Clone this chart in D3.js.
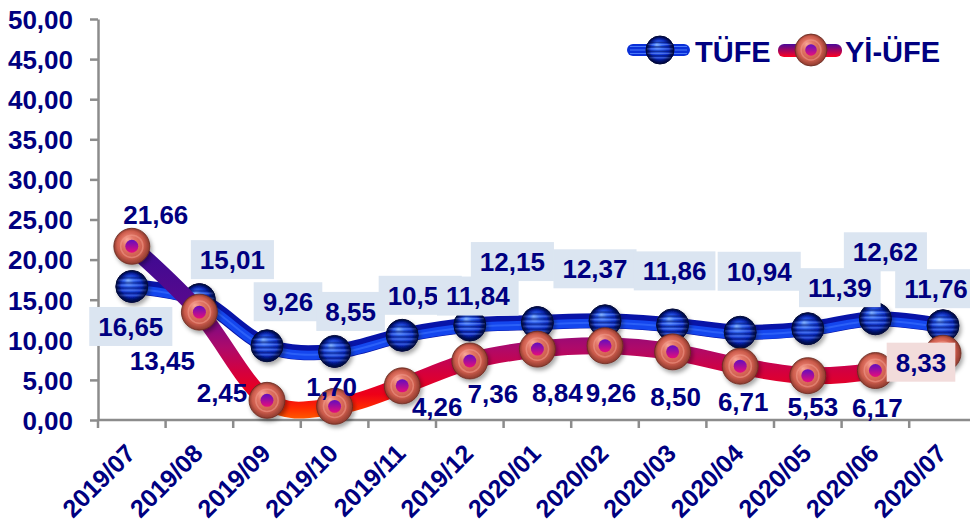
<!DOCTYPE html>
<html><head><meta charset="utf-8">
<script src="https://cdn.jsdelivr.net/npm/d3@7"></script>
<style>
body{margin:0;background:#fff}
svg{display:block}
text{font-family:"Liberation Sans",Arial,sans-serif;font-weight:bold;fill:#000080}
</style>
</head><body>
<svg id="c" width="970" height="524"></svg>
<script>
// ---- data ----
const categories = ["2019/07","2019/08","2019/09","2019/10","2019/11","2019/12","2020/01","2020/02","2020/03","2020/04","2020/05","2020/06","2020/07"];
const tufe   = [16.65,15.01,9.26,8.55,10.56,11.84,12.15,12.37,11.86,10.94,11.39,12.62,11.76];
const yiufe  = [21.66,13.45,2.45,1.70,4.26,7.36,8.84,9.26,8.50,6.71,5.53,6.17,8.33];
const yTicks = [0,5,10,15,20,25,30,35,40,45,50];
const seriesNames = ["TÜFE","Yİ-ÜFE"];

// ---- label layout (offsets from the point, px) ----
const tufeLabelDx = [-1,33,21,16,18,8,-25,-10,2,19,32,10,-7];
const tufeLabelDy = [40,-40,-44,-40,-40,-29,-61,-52,-54,-61,-41,-67,-37];
const yiLabelDx   = [24,-37,-45,-3,35,23,20,6,3,3,5,2,-22];
const yiLabelDy   = [-32,49,-8,-20,21,33,44,47,45,35,31,37,9];
const yiLabelBoxed= [false,false,false,false,false,false,false,false,false,false,false,false,true];

const fmt = v => v.toFixed(2).replace(".", ",");
const svg = d3.select("#c");
const x = d3.scaleBand().domain(categories).range([98, 98 + 13*67.6]).padding(0);
const y = d3.scaleLinear().domain([0,50]).range([420,19]);
const cx = c => x(c) + x.bandwidth()/2;

// ---- defs ----
const defs = svg.append("defs");
function radial(id, stops, fx, fy){
  const g = defs.append("radialGradient").attr("id", id).attr("cx","50%").attr("cy","50%").attr("r","50%")
    .attr("fx", fx||"50%").attr("fy", fy||"50%");
  stops.forEach(s => g.append("stop").attr("offset", s[0]).attr("stop-color", s[1]).attr("stop-opacity", s[2]==null?1:s[2]));
}
radial("blueSphere", [["0%","#7eb0ff"],["30%","#2f62f5"],["70%","#0a2ac8"],["100%","#000a55"]], "38%", "30%");
radial("blueShade", [["0%","#000",0],["65%","#000",0],["100%","#000030",0.55]]);
radial("coral", [["0%","#f8a898"],["35%","#e47868"],["75%","#cc5c4c"],["100%","#8c3a2e"]], "36%", "30%");
radial("coralHalo", [["0%","#a02060",0.9],["45%","#b03a50",0.6],["70%","#d06050",0],["100%","#d06050",0]]);
const dotG = defs.append("linearGradient").attr("id","dot").attr("x1",0).attr("y1",0).attr("x2",0).attr("y2",1);
dotG.append("stop").attr("offset","0%").attr("stop-color","#6010c0");
dotG.append("stop").attr("offset","100%").attr("stop-color","#e8107a");

// stripes pattern for blue spheres
const pat = defs.append("pattern").attr("id","stripes").attr("patternUnits","objectBoundingBox")
  .attr("patternContentUnits","objectBoundingBox").attr("width",1).attr("height",1);
[0.20,0.36,0.52,0.68].forEach(t => {
  pat.append("rect").attr("x",0).attr("y",t).attr("width",1).attr("height",0.06).attr("fill","#001060").attr("opacity",0.55);
  pat.append("rect").attr("x",0).attr("y",t+0.08).attr("width",1).attr("height",0.04).attr("fill","#8ab4ff").attr("opacity",0.45);
});

// vertical gradient for Yİ-ÜFE line
const lg = defs.append("linearGradient").attr("id","yiLine").attr("gradientUnits","userSpaceOnUse")
  .attr("x1",0).attr("x2",0).attr("y1",y(22)).attr("y2",y(-1.2));
[[22,"#3a0a92"],[15,"#56098e"],[12,"#820a82"],[9,"#ae0a6a"],[6,"#d4003e"],[3.2,"#ee0018"],[1.5,"#ff2a00"],[-1.2,"#ff8a00"]]
  .forEach(s => lg.append("stop").attr("offset", (y(s[0])-y(22))/(y(-1.2)-y(22))).attr("stop-color", s[1]));
const legG = defs.append("linearGradient").attr("id","yiLegend").attr("x1",0).attr("x2",0).attr("y1",0).attr("y2",1);
legG.append("stop").attr("offset","0%").attr("stop-color","#4a0a9a");
legG.append("stop").attr("offset","100%").attr("stop-color","#ff0020");

const f = defs.append("filter").attr("id","shadow").attr("x","-50%").attr("y","-50%").attr("width","200%").attr("height","200%");
f.append("feDropShadow").attr("dx",2).attr("dy",3).attr("stdDeviation",2).attr("flood-color","#000").attr("flood-opacity",0.35);

// ---- axes ----
const yAxis = svg.append("g").attr("transform","translate(98,0)")
  .call(d3.axisLeft(y).tickValues(yTicks).tickSize(8).tickSizeOuter(0).tickFormat(fmt));
yAxis.select(".domain").attr("stroke","#8c8c8c").attr("stroke-width",2.5);
yAxis.selectAll(".tick line").attr("stroke","#8c8c8c").attr("stroke-width",2.5);
yAxis.selectAll(".tick text").attr("x",-25).attr("dy","0.36em")
  .style("font-size","26px").style("font-family","'Liberation Sans',Arial,sans-serif").style("font-weight","bold").attr("fill","#000080");

const xAxis = svg.append("g").attr("transform","translate(0,420)")
  .call(d3.axisBottom(x).tickSize(8).tickSizeOuter(0).tickFormat(""));
xAxis.select(".domain").attr("stroke","#8c8c8c").attr("stroke-width",2.5).attr("d", `M98,0H970`);
xAxis.selectAll(".tick line").attr("stroke","#8c8c8c").attr("stroke-width",2.5)
  .attr("x1",-x.bandwidth()/2).attr("x2",-x.bandwidth()/2);
svg.append("g").selectAll("text").data(categories).join("text")
  .attr("transform", d => `translate(${cx(d)+5},455) rotate(-45)`)
  .attr("text-anchor","end").style("font-size","25px").text(d => d);

// ---- lines ----
const line = d3.line().x((d,i) => cx(categories[i])).y(d => y(d)).curve(d3.curveCatmullRom.alpha(0));
svg.append("path").attr("d", line(tufe)).attr("fill","none").attr("stroke","#0814a8").attr("stroke-width",15).attr("stroke-linejoin","round");
svg.append("path").attr("d", line(tufe)).attr("transform","translate(0,2.5)").attr("fill","none").attr("stroke","#1446ee").attr("stroke-width",9).attr("stroke-linejoin","round");
svg.append("path").attr("d", line(tufe)).attr("transform","translate(0,2)").attr("fill","none").attr("stroke","#3a72ff").attr("stroke-width",2).attr("opacity",0.6);

// TÜFE markers
const tm = svg.append("g").selectAll("g").data(tufe).join("g")
  .attr("transform",(d,i) => `translate(${cx(categories[i])},${y(d)})`).attr("filter","url(#shadow)");
tm.append("circle").attr("r",16).attr("fill","url(#blueSphere)");
tm.append("circle").attr("r",16).attr("fill","url(#stripes)");
tm.append("circle").attr("r",16).attr("fill","url(#blueShade)").attr("stroke","#00083a").attr("stroke-width",1);

svg.append("path").attr("d", line(yiufe)).attr("fill","none").attr("stroke","url(#yiLine)").attr("stroke-width",17).attr("stroke-linejoin","round");

// Yİ-ÜFE markers
function coralMarker(g, r){
  g.append("circle").attr("r",r).attr("fill","url(#coral)").attr("stroke","#6a2a20").attr("stroke-width",0.8);
  g.append("circle").attr("r",r*0.62).attr("fill","none").attr("stroke","#f4a090").attr("stroke-width",1.5).attr("opacity",0.5);
  g.append("circle").attr("r",r*0.55).attr("fill","url(#coralHalo)");
  g.append("circle").attr("r",r*0.36).attr("fill","url(#dot)");
}
const ym = svg.append("g").selectAll("g").data(yiufe).join("g")
  .attr("transform",(d,i) => `translate(${cx(categories[i])},${y(d)})`).attr("filter","url(#shadow)");
ym.each(function(){ coralMarker(d3.select(this), 18); });

// ---- data labels ----
function label(g, px, py, text, box){
  const t = g.append("text").attr("x",px).attr("y",py).attr("dy","0.36em").attr("text-anchor","middle")
    .style("font-size","26px").text(text);
  if (box){
    const w = t.node().getComputedTextLength();
    g.insert("rect","text").attr("x",px-w/2-9).attr("y",py-19.5).attr("width",w+18).attr("height",39).attr("fill",box);
  }
}
tufe.forEach((v,i) => label(svg.append("g"), cx(categories[i])+tufeLabelDx[i], y(v)+tufeLabelDy[i], fmt(v), "#dbe5f1"));
yiufe.forEach((v,i) => label(svg.append("g"), cx(categories[i])+yiLabelDx[i], y(v)+yiLabelDy[i], fmt(v), yiLabelBoxed[i] ? "#f2dcdb" : null));

// ---- legend ----
const lgd = svg.append("g");
lgd.append("rect").attr("x",627).attr("y",44).attr("width",63).attr("height",12).attr("rx",6).attr("fill","#0a30d8");
[46.5,50,53.5].forEach(yy => lgd.append("line").attr("x1",630).attr("x2",687).attr("y1",yy).attr("y2",yy).attr("stroke","#5a8cff").attr("stroke-width",1).attr("opacity",0.8));
const ls = lgd.append("g").attr("transform","translate(660,50)");
ls.append("circle").attr("r",14).attr("fill","url(#blueSphere)");
ls.append("circle").attr("r",14).attr("fill","url(#stripes)");
ls.append("circle").attr("r",14).attr("fill","url(#blueShade)").attr("stroke","#00083a").attr("stroke-width",1);
lgd.append("text").attr("x",695).attr("y",62).style("font-size","29px").text(seriesNames[0]);
lgd.append("rect").attr("x",778).attr("y",44).attr("width",64).attr("height",13).attr("rx",6).attr("fill","url(#yiLegend)");
coralMarker(lgd.append("g").attr("transform","translate(811,50)"), 16);
lgd.append("text").attr("x",845).attr("y",62).style("font-size","29px").text(seriesNames[1]);
</script>
</body></html>
